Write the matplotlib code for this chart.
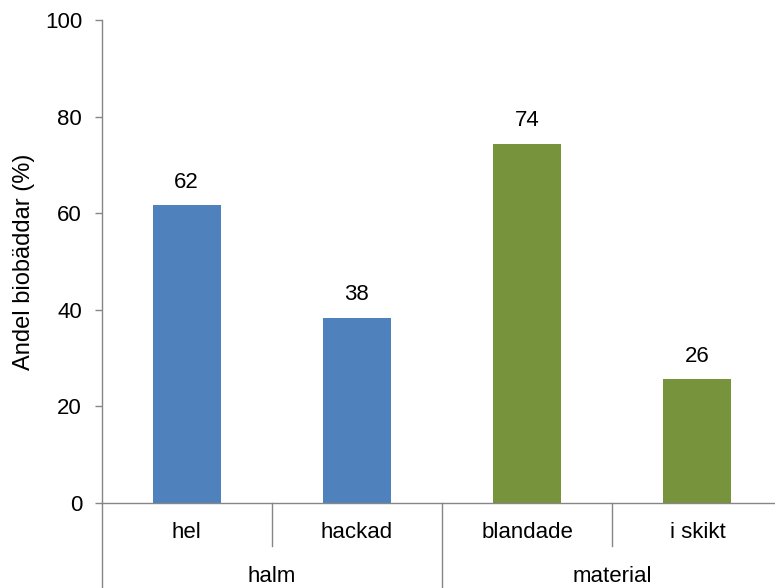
import matplotlib.pyplot as plt
from matplotlib.transforms import blended_transform_factory

# data
categories = ['hel', 'hackad', 'blandade', 'i skikt']
groups = ['halm', 'material']
values = [61.6, 38.4, 74.4, 25.6]
bar_colors = ['#4F81BD', '#4F81BD', '#77933C', '#77933C']

plt.rcParams['font.family'] = ['Liberation Sans', 'DejaVu Sans']
grey = '#868686'
fs = 16

fig = plt.figure(figsize=(7.75, 5.88), dpi=100)
ax = fig.add_axes([101.5 / 775, 85 / 588, 681 / 775, 483 / 588])

x = list(range(len(categories)))
bars = ax.bar(x, values, width=0.4, color=bar_colors)
for b, v in zip(bars, values):
    ax.annotate(f"{v:.0f}", (b.get_x() + b.get_width() / 2, v), xytext=(0, 9),
                textcoords='offset points', ha='center', va='bottom', fontsize=fs)

ax.set_xlim(-0.5, 3.5)
ax.set_ylim(0, 100)
ax.set_yticks(range(0, 101, 20))
ax.tick_params(axis='y', direction='out', length=5, width=1, color=grey, labelsize=fs, pad=9)
ax.set_xticks([])
ax.set_ylabel('Andel biobäddar (%)', fontsize=17)
ax.yaxis.set_label_coords(-0.0977, 0.5)

for s in ['top', 'right']:
    ax.spines[s].set_visible(False)
for s in ['left', 'bottom']:
    ax.spines[s].set_color(grey)
    ax.spines[s].set_linewidth(1)

# two-level category axis
tr = blended_transform_factory(ax.transData, ax.transAxes)
for i, c in enumerate(categories):
    ax.text(i, -0.062, c, transform=tr, ha='center', va='center', fontsize=fs)
for j, g in enumerate(groups):
    ax.text(2 * j + 0.5, -0.153, g, transform=tr, ha='center', va='center', fontsize=fs)
for xs in [0.5, 2.5]:
    ax.plot([xs, xs], [0, -0.09], transform=tr, color=grey, lw=1, clip_on=False)
for xs in [-0.5, 1.5]:
    ax.plot([xs, xs], [0, -0.3], transform=tr, color=grey, lw=1, clip_on=False)

plt.savefig('out.png', dpi=100)
